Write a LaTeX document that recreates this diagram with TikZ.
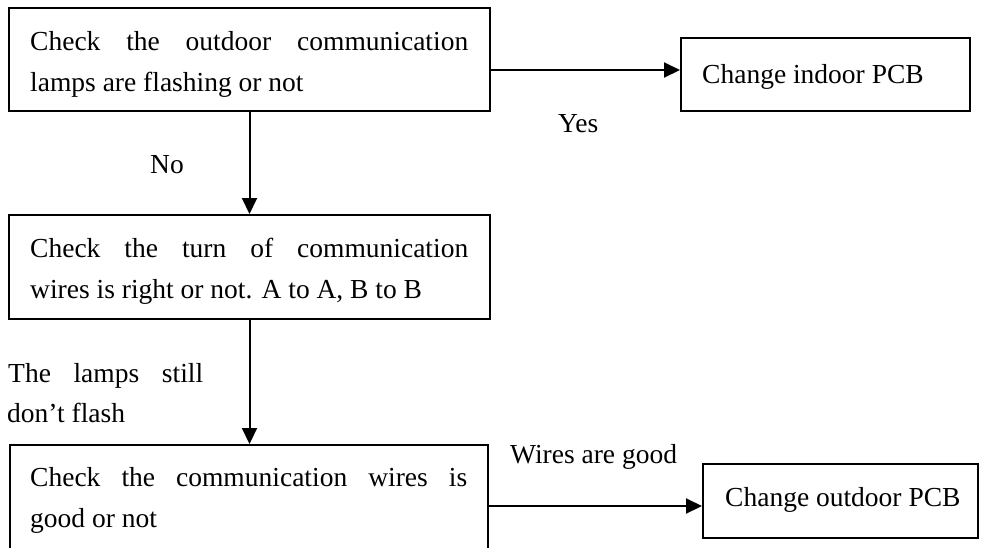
\documentclass[tikz,border=0pt]{standalone}
\usepackage{fontspec}
\setmainfont{Liberation Serif}
\usetikzlibrary{arrows.meta}
\begin{document}
\begin{tikzpicture}[x=1pt,y=1pt,
  box/.style={draw=black, line width=2pt, inner sep=0pt, rectangle},
  txt/.style={inner sep=0pt, anchor=base west, font=\fontsize{27.5}{41}\selectfont},
  arr/.style={line width=2pt, -{Triangle[length=16pt,width=15pt]}}]
\useasboundingbox (0,0) rectangle (981,-547);
\clip (0,0) rectangle (981,-547);
% boxes
\node[box, minimum width=481pt, minimum height=103pt] (b1) at (249.5,-59.5) {};
\node[box, minimum width=289pt, minimum height=73pt] (b2) at (825.5,-74.5) {};
\node[box, minimum width=481pt, minimum height=104pt] (b3) at (249.5,-267) {};
\node[box, minimum width=478pt, minimum height=120pt] (b4) at (249,-505) {};
\node[box, minimum width=275pt, minimum height=74pt] (b5) at (840.5,-501) {};
% box texts
\node[txt] (t1a) at (30,-50) {\makebox[438pt][s]{Check the outdoor communication}};
\node[txt] (t1b) at (30,-91) {lamps are flashing or not};
\node[txt] (t2) at (702,-83) {Change indoor PCB};
\node[txt] (t3a) at (30,-257) {\makebox[438pt][s]{Check the turn of communication}};
\node[txt] (t3b) at (30,-298) {wires is right or not. A to A, B to B};
\node[txt] (t4a) at (30,-486) {\makebox[437pt][s]{Check the communication wires is}};
\node[txt] (t4b) at (30,-527) {good or not};
\node[txt] (t5) at (725,-506) {Change outdoor PCB};
% labels
\node[txt] (lyes) at (558,-132) {Yes};
\node[txt] (lno) at (150,-173) {No};
\node[txt] (lstill) at (8,-382) {\makebox[195pt][s]{The lamps still}};
\node[txt] (lflash) at (7,-422) {don’t flash};
\node[txt] (lgood) at (510,-463) {Wires are good};
% connectors
\draw[arr] ([yshift=-10.5pt]b1.east) coordinate (p1) -- (p1 -| b2.west);
\draw[arr] (b1.south) -- (b3.north);
\draw[arr] (b3.south) -- (b3.south |- b4.north);
\coordinate (p2) at ([yshift=-5pt]b5.west);
\draw[arr] (b4.east |- p2) -- (p2);
\end{tikzpicture}
\end{document}
